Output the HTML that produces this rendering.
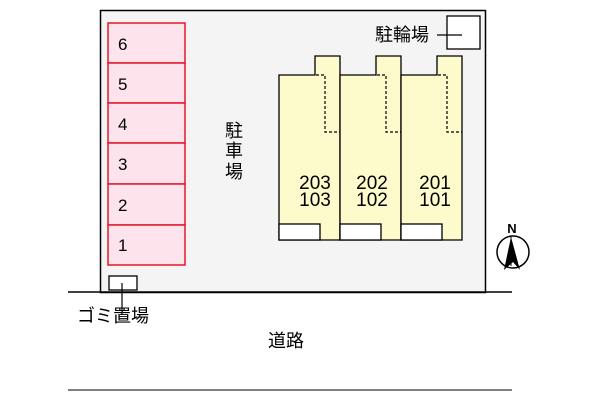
<!DOCTYPE html><html><head><meta charset="utf-8"><style>body{margin:0;background:#fff}</style></head><body>
<svg width="600" height="400" xmlns="http://www.w3.org/2000/svg" font-family="Liberation Sans, Noto Sans CJK JP, sans-serif">
<rect x="100.5" y="10.5" width="385" height="282" fill="#f4f4f4" stroke="#000" stroke-width="1.5"/>
<line x1="68" y1="292" x2="512" y2="292" stroke="#000" stroke-width="1.5"/>
<line x1="68" y1="390" x2="512" y2="390" stroke="#000" stroke-width="1"/>
<g fill="#fde4ec" stroke="#e0182c" stroke-width="1.5">
<rect x="108" y="23" width="77" height="40"/><rect x="108" y="63" width="77" height="40"/><rect x="108" y="103" width="77" height="40"/><rect x="108" y="143" width="77" height="41"/><rect x="108" y="184" width="77" height="41"/><rect x="108" y="225" width="77" height="40"/>
</g>
<g font-size="17" fill="#000"><text x="118" y="50">6</text><text x="118" y="90">5</text><text x="118" y="130">4</text><text x="118" y="170">3</text><text x="118" y="211">2</text><text x="118" y="251">1</text></g>
<g font-size="18" text-anchor="middle"><text x="234" y="137">駐</text><text x="234" y="157">車</text><text x="234" y="178">場</text></g>
<g fill="#fdfbcc" stroke="#000" stroke-width="1.3">
<path d="M279 75H315V56H340V240H279Z"/><path d="M340 75H376V56H401V240H340Z"/><path d="M401 75H437V56H462V240H401Z"/>
</g>
<g fill="#fff" stroke="#000" stroke-width="1.3"><rect x="279" y="224" width="41" height="16"/><rect x="340" y="224" width="41" height="16"/><rect x="401" y="224" width="41" height="16"/></g>
<g fill="none" stroke="#000" stroke-width="1.2" stroke-dasharray="3,2"><path d="M316 75H325V132H340"/><path d="M377 75H386V132H401"/><path d="M438 75H447V132H462"/></g>
<g font-size="19" text-anchor="middle"><text x="315" y="189">203</text><text x="315" y="206">103</text><text x="372" y="189">202</text><text x="372" y="206">102</text><text x="435" y="189">201</text><text x="435" y="206">101</text></g>
<rect x="447" y="16" width="33" height="33" fill="#fff" stroke="#000" stroke-width="1.3"/>
<line x1="437" y1="35" x2="462" y2="35" stroke="#000" stroke-width="1.2"/>
<text x="375" y="41" font-size="18">駐輪場</text>
<rect x="109" y="276" width="28" height="14" fill="#fff" stroke="#000" stroke-width="1.3"/>
<line x1="122" y1="283" x2="122" y2="310" stroke="#000" stroke-width="1.2"/>
<text x="77" y="322" font-size="18">ゴミ置場</text>
<text x="268" y="347" font-size="18">道路</text>
<circle cx="513" cy="252" r="16" fill="#fff" stroke="#000" stroke-width="1.5"/>
<path d="M511 237L504 270L513 262L520 270Z" fill="#000"/>
<line x1="511" y1="237" x2="511" y2="266" stroke="#000"/>
<text x="512" y="233" font-size="13" font-weight="bold" text-anchor="middle">N</text>
</svg></body></html>
